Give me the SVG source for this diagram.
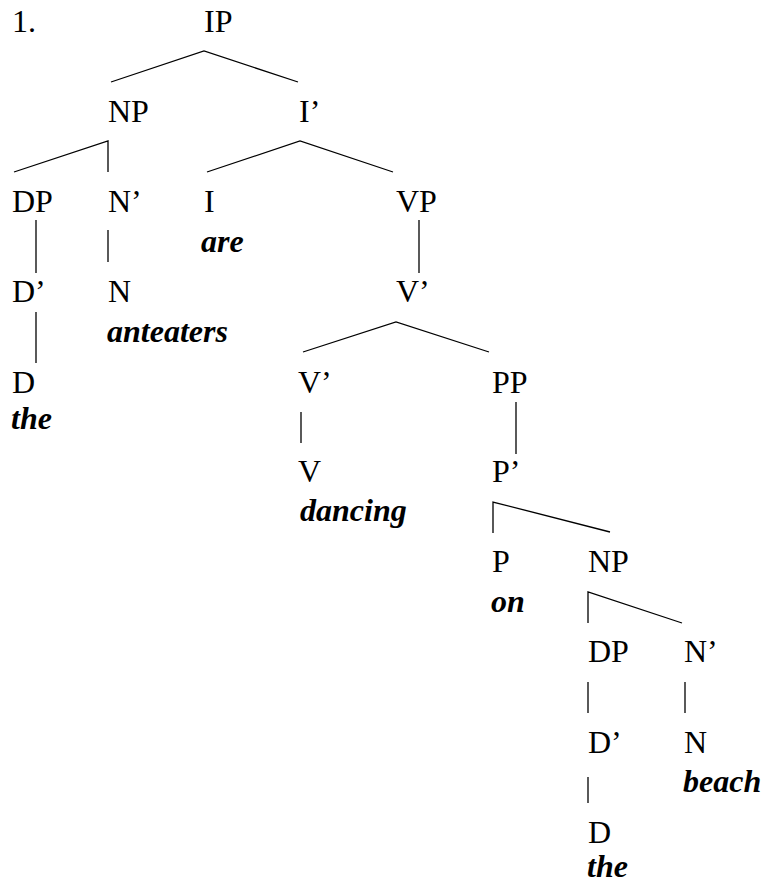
<svg xmlns="http://www.w3.org/2000/svg" width="765" height="885" viewBox="0 0 765 885">
<style>
text{font-family:'Liberation Serif',Tinos,'Times New Roman',Times,'Nimbus Roman','DejaVu Serif',serif;font-size:32px;fill:#000}
.w{font-weight:bold;font-style:italic}
.e{fill:none;stroke:#000;stroke-width:1.3}
</style>
<rect width="765" height="885" fill="#fff"/>
<g id="connectors">
<polyline class="e" points="111,82 204,51 298,82"/>
<polyline class="e" points="14,172 108,141 108,172"/>
<polyline class="e" points="207,172 300,141 393,172"/>
<line class="e" x1="36" y1="220" x2="36" y2="273"/>
<line class="e" x1="108" y1="230" x2="108" y2="262"/>
<line class="e" x1="419" y1="220" x2="419" y2="273"/>
<line class="e" x1="36" y1="312" x2="36" y2="363"/>
<polyline class="e" points="303,352 396,322 489,352"/>
<line class="e" x1="301" y1="412" x2="301" y2="443"/>
<line class="e" x1="516" y1="402" x2="516" y2="454"/>
<polyline class="e" points="493,533 493,502 610,532"/>
<polyline class="e" points="588,623 588,592 682,623"/>
<line class="e" x1="588" y1="682" x2="588" y2="713"/>
<line class="e" x1="685" y1="682" x2="685" y2="713"/>
<line class="e" x1="588" y1="777" x2="588" y2="803"/>
</g>
<g font-family="Liberation Serif, Times New Roman, serif">
<g id="num"><text x="12" y="32">1.</text></g>
<g id="IP"><text x="204" y="32">IP</text></g>
<g id="NP1"><text x="108" y="122">NP</text></g>
<g id="Ibar"><text x="299" y="122">I’</text></g>
<g id="DP1"><text x="12" y="212">DP</text></g>
<g id="Nbar1"><text x="108" y="212">N’</text></g>
<g id="I"><text x="204" y="212">I</text><text class="w" x="201" y="252">are</text></g>
<g id="VP"><text x="396" y="212">VP</text></g>
<g id="Dbar1"><text x="12" y="302">D’</text></g>
<g id="N1"><text x="108" y="302">N</text><text class="w" x="107" y="342">anteaters</text></g>
<g id="Vbar1"><text x="396" y="302">V’</text></g>
<g id="D1"><text x="12" y="393">D</text><text class="w" x="11" y="429">the</text></g>
<g id="Vbar2"><text x="298" y="393">V’</text></g>
<g id="PP"><text x="492" y="393">PP</text></g>
<g id="V"><text x="298" y="482">V</text><text class="w" x="300" y="521">dancing</text></g>
<g id="Pbar"><text x="492" y="482">P’</text></g>
<g id="P"><text x="492" y="572">P</text><text class="w" x="491" y="612">on</text></g>
<g id="NP2"><text x="588" y="572">NP</text></g>
<g id="DP2"><text x="588" y="662">DP</text></g>
<g id="Nbar2"><text x="684" y="662">N’</text></g>
<g id="Dbar2"><text x="588" y="753">D’</text></g>
<g id="N2"><text x="684" y="753">N</text><text class="w" x="683" y="792">beach</text></g>
<g id="D2"><text x="588" y="843">D</text><text class="w" x="587" y="877">the</text></g>
</g>
</svg>
